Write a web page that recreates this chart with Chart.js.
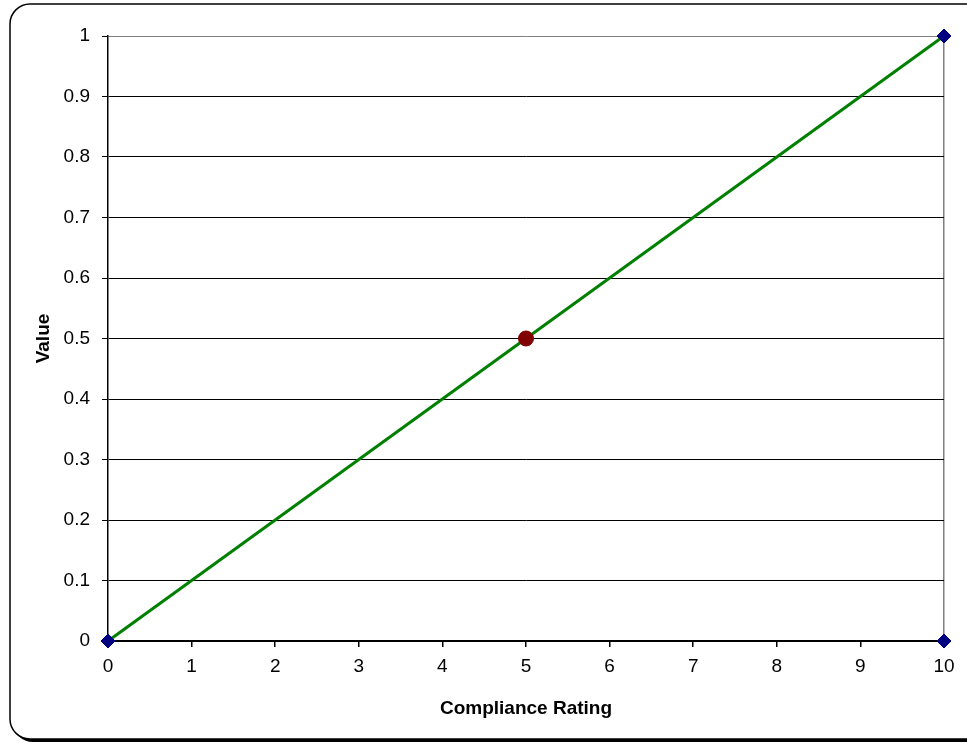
<!DOCTYPE html>
<html lang="en">
  <head>
    <meta charset="UTF-8" />
    <title>Compliance Rating</title>
    <script src="https://cdn.jsdelivr.net/npm/chart.js"></script>
    <style>
      html, body { margin: 0; padding: 0; background: #fff; }
      #wrap { width: 967px; height: 744px; position: relative; }
    </style>
  </head>
  <body>
    <div id="wrap"><canvas id="complianceChart"></canvas></div>

    <script>
      // data
      const lineX = [0, 2.5, 5, 7.5, 10];
      const lineY = [0, 0.25, 0.5, 0.75, 1];
      const diamondX = [0, 10, 10];
      const diamondY = [0, 1, 0];
      const markX = [5];
      const markY = [0.5];
      const xTicks = [0, 1, 2, 3, 4, 5, 6, 7, 8, 9, 10];
      const yTicks = [0, 0.1, 0.2, 0.3, 0.4, 0.5, 0.6, 0.7, 0.8, 0.9, 1];

      const toPoints = (xs, ys) => xs.map((x, i) => ({ x: x, y: ys[i] }));

      // rounded frame with a shadow, like the spreadsheet chart border
      const framePlugin = {
        id: "frame",
        beforeDraw(chart) {
          const ctx = chart.ctx;
          ctx.save();
          ctx.fillStyle = "#fff";
          ctx.fillRect(0, 0, chart.width, chart.height);
          const x = 10, y = 4, w = 975, h = 735, r = 20;
          ctx.beginPath();
          ctx.roundRect(x + 3, y + 3, w, h, r);
          ctx.fillStyle = "#000";
          ctx.fill();
          ctx.beginPath();
          ctx.roundRect(x, y, w, h, r);
          ctx.fillStyle = "#fff";
          ctx.fill();
          ctx.lineWidth = 1.5;
          ctx.strokeStyle = "#000";
          ctx.stroke();
          ctx.restore();
        },
      };

      const family = "'Liberation Sans', Arial, sans-serif";
      const tickFont = { family: family, size: 19 };
      const titleFont = { family: family, size: 19, weight: "bold" };

      new Chart(document.getElementById("complianceChart"), {
        type: "scatter",
        data: {
          datasets: [
            {
              label: "Line",
              data: toPoints(lineX, lineY),
              showLine: true,
              borderColor: "#008000",
              borderWidth: 3,
              pointRadius: 0,
              clip: false,
              order: 3,
            },
            {
              label: "Ends",
              data: toPoints(diamondX, diamondY),
              pointStyle: "rectRot",
              pointRadius: 7,
              backgroundColor: "#000080",
              borderColor: "#000080",
              clip: false,
              order: 2,
            },
            {
              label: "Current",
              data: toPoints(markX, markY),
              pointStyle: "circle",
              pointRadius: 7.5,
              backgroundColor: "#800000",
              borderColor: "#800000",
              clip: false,
              order: 1,
            },
          ],
        },
        options: {
          responsive: true,
          maintainAspectRatio: false,
          animation: false,
          layout: { padding: { left: 32, top: 36, right: 23, bottom: 24 } },
          plugins: {
            legend: { display: false },
            tooltip: { enabled: false },
          },
          scales: {
            x: {
              type: "linear",
              min: 0,
              max: 10,
              afterBuildTicks: (scale) => {
                scale.ticks = xTicks.map((v) => ({ value: v }));
              },
              afterFit: (scale) => { scale.height = 79; },
              ticks: { color: "#000", font: tickFont, padding: 8 },
              grid: {
                color: (c) => (c.tick && c.tick.value === 10 ? "#808080" : "rgba(0,0,0,0)"),
                tickColor: "#000",
                tickLength: 6,
                lineWidth: 1.5,
              },
              border: { color: "#000", width: 1.5 },
              title: {
                display: true,
                text: "Compliance Rating",
                color: "#000",
                font: titleFont,
                padding: 0,
              },
            },
            y: {
              type: "linear",
              min: 0,
              max: 1,
              afterBuildTicks: (scale) => {
                scale.ticks = yTicks.map((v) => ({ value: v }));
              },
              afterFit: (scale) => { scale.width = 76; },
              ticks: {
                color: "#000",
                font: tickFont,
                padding: 12,
                callback: (v) => String(Number(v.toFixed(1))),
              },
              grid: {
                color: (c) => (c.tick && c.tick.value === 1 ? "#808080" : "#000"),
                tickColor: "#000",
                tickLength: 6,
                lineWidth: 1,
              },
              border: { color: "#000", width: 1.5 },
              title: {
                display: true,
                text: "Value",
                color: "#000",
                font: titleFont,
                padding: 0,
              },
            },
          },
        },
        plugins: [framePlugin],
      });
    </script>
  </body>
</html>
